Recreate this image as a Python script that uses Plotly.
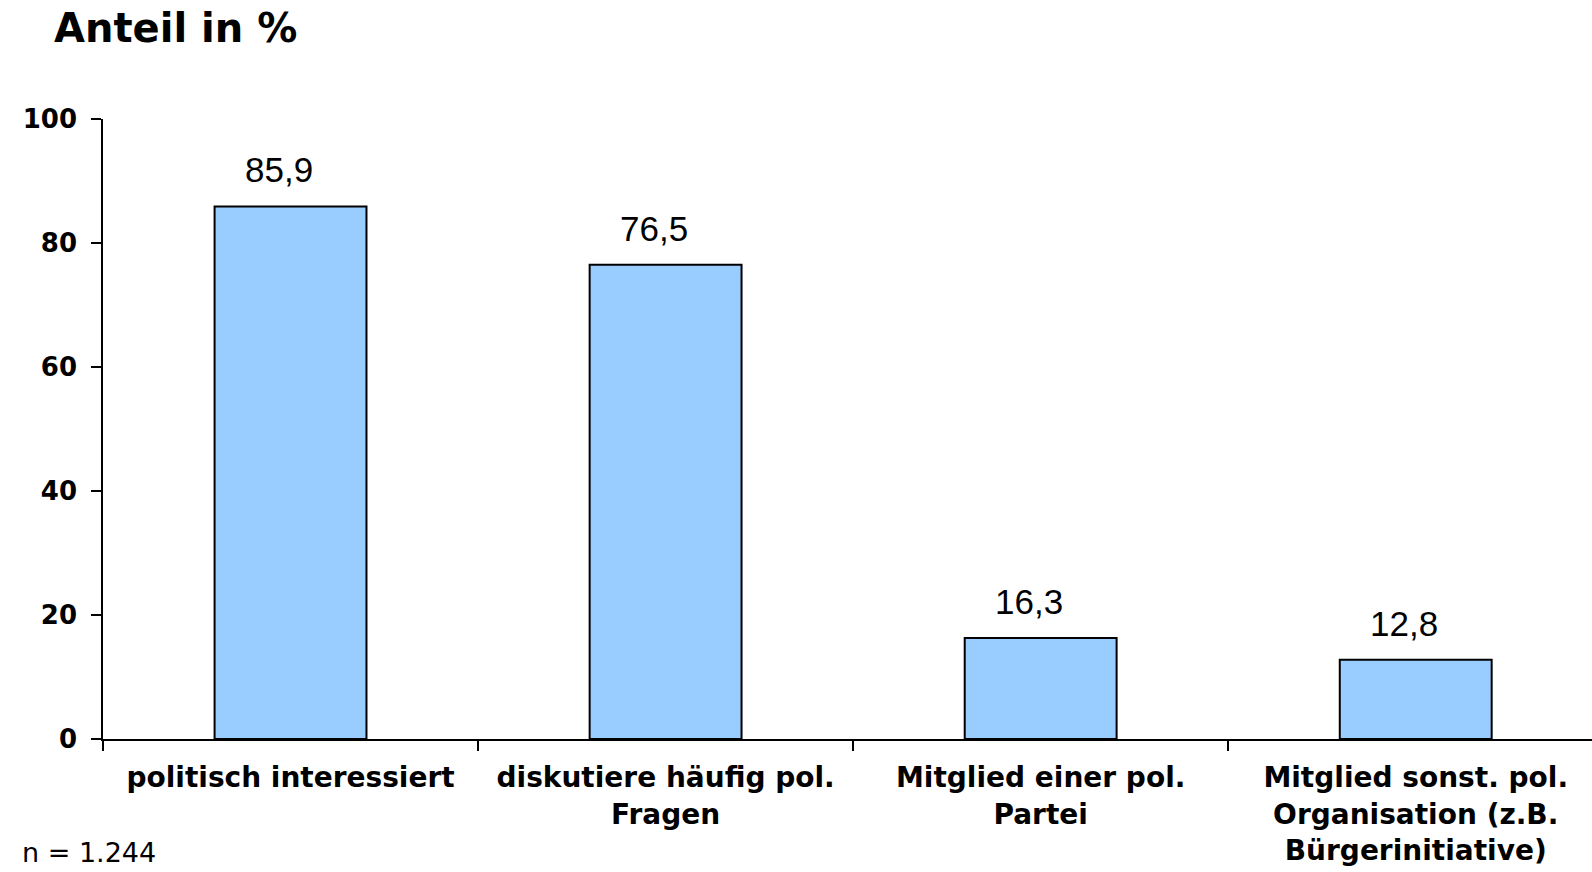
import plotly.graph_objects as go

categories = [
    "politisch interessiert",
    "diskutiere häufig pol.<br>Fragen",
    "Mitglied einer pol.<br>Partei",
    "Mitglied sonst. pol.<br>Organisation (z.B.<br>Bürgerinitiative)",
]
shares = [85.9, 76.5, 16.3, 12.8]
share_labels = ["85,9", "76,5", "16,3", "12,8"]
y_ticks = [0, 20, 40, 60, 80, 100]

fig = go.Figure(
    go.Bar(
        x=categories,
        y=shares,
        width=0.405,
        marker=dict(color="#99CCFF", line=dict(color="black", width=2)),
        hoverinfo="skip",
    )
)

# value labels above each bar
for cat, val, lab in zip(categories, shares, share_labels):
    fig.add_annotation(
        x=cat, y=val, text=lab, showarrow=False,
        xanchor="center", yanchor="bottom", xshift=-12, yshift=15,
        font=dict(family="Liberation Sans", size=35, color="black"),
    )

# heading and sample size
fig.add_annotation(
    xref="paper", yref="paper", x=-103 / 1489, y=1, yshift=119 - 28,
    text="<b>Anteil in %</b>", showarrow=False, xanchor="left", yanchor="middle",
    xshift=52,
    font=dict(family="DejaVu Sans", size=40, color="black"),
)
fig.add_annotation(
    xref="paper", yref="paper", x=-103 / 1489, y=0, yshift=-(852 - 739),
    text="n = 1.244", showarrow=False, xanchor="left", yanchor="middle",
    xshift=20,
    font=dict(family="DejaVu Sans", size=27, color="black"),
)

fig.update_layout(
    width=1592, height=872,
    margin=dict(l=103, r=0, t=119, b=133),
    paper_bgcolor="white", plot_bgcolor="white",
    showlegend=False,
)
fig.update_xaxes(
    type="category", range=[-0.5, 3.47],
    tickson="boundaries", ticks="outside", ticklen=10, tickwidth=1.5, tickcolor="black",
    showline=True, linecolor="black", linewidth=1.5, showgrid=False,
    ticklabelstandoff=13,
    tickfont=dict(family="DejaVu Sans", size=28, color="black"),
    tickvals=categories, ticktext=["<b>" + c.replace("<br>", "</b><br><b>") + "</b>" for c in categories],
)
fig.update_yaxes(
    range=[0, 100], tickvals=y_ticks, ticktext=["<b>%d</b>" % v for v in y_ticks],
    ticks="outside", ticklen=10, tickwidth=1.5, tickcolor="black",
    showline=True, linecolor="black", linewidth=1.5, showgrid=False, zeroline=False,
    ticklabelstandoff=9,
    tickfont=dict(family="DejaVu Sans", size=26, color="black"),
)

fig.write_html("out.html")
